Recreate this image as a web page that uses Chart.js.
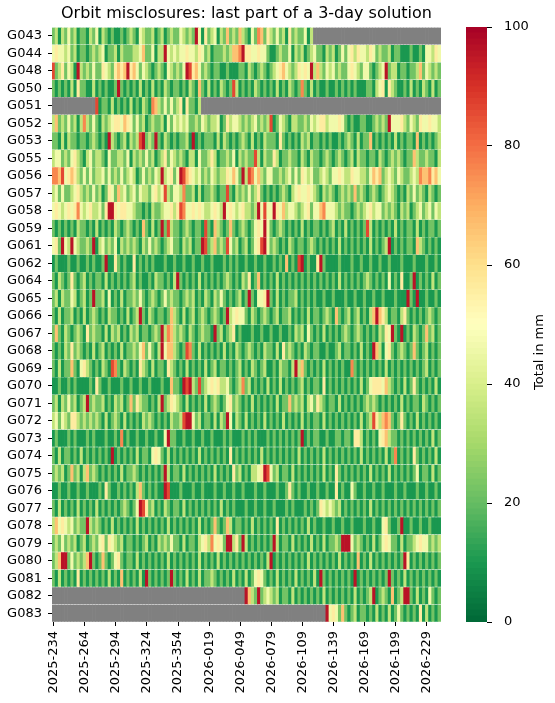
<!DOCTYPE html>
<html>
<head>
<meta charset="utf-8">
<script src="https://cdn.jsdelivr.net/npm/chart.js@4.4.1/dist/chart.umd.min.js"></script>
<style>
  html, body { margin: 0; padding: 0; background: #fff; }
  #wrap { position: relative; width: 555px; height: 703px; }
  #wrap canvas { position: absolute; left: 0; top: 0; width: 555px; height: 703px; }
</style>
</head>
<body>
<div id="wrap">
  <canvas id="heat" width="555" height="703"></canvas>
  <canvas id="cbar" width="555" height="703"></canvas>
</div>
<script>
const satellites = ['G043','G044','G048','G050','G051','G052','G053','G055','G056','G057','G058','G059',
  'G061','G062','G064','G065','G066','G067','G068','G069','G070','G071','G072','G073','G074','G075',
  'G076','G077','G078','G079','G080','G081','G082','G083'];

const xTickLabels = ['2025-234','2025-264','2025-294','2025-324','2025-354','2026-019','2026-049',
  '2026-079','2026-109','2026-139','2026-169','2026-199','2026-229'];
const colsPerTick = 10;   // one column = 3 days, ticks every 30 days

// mm for each level digit used below
const levelMm = [3, 10, 22, 35, 46, 56, 66, 76, 86, 96];

// misclosure per satellite, one char per 3-day column (level digit), '.' = no solution
const rowLevels = [
  '23132 42312 21324 13212 11212 32143 22312 31232 24323 29415 23413 26232 63214 27625 32423 15232 2413. ..... ..... ..... ..... ..... ..... ..... .....',
  '45443 42312 21232 34122 31322 23346 22413 39434 34454 43542 31222 32366 79554 45442 11232 24132 31234 22132 31242 45354 43542 32231 22111 21121 44354',
  '82352 43193 23242 25432 56569 56424 32123 21432 32498 56423 21221 12111 22132 12321 23456 43235 45493 63243 42322 45432 44212 34923 31221 22362 43232',
  '21212 13152 21131 21211 29212 12131 21312 13212 21213 21621 31213 21283 12121 32121 21312 13212 72131 21121 12121 21211 12213 45153 21121 31213 21312',
  '..... ..... ....8 12213 12121 31213 21763 24242 35152 213.. ..... ..... ..... ..... ..... ..... ..... ..... ..... ..... ..... ..... ..... ..... .....',
  '36232 42313 73242 13234 55465 42423 12322 31424 34342 23243 23341 25344 32323 42323 81243 21332 23243 45534 44542 12112 21123 23294 44532 43254 45443',
  '22131 32212 21232 12193 21231 32389 23292 13212 12231 91212 22131 32121 23213 12132 22152 12121 32312 21212 11212 32131 22612 12121 31212 21612 12123',
  '34423 24532 13423 32142 23324 13232 42312 35243 23213 31422 35312 23241 32322 83132 25312 23221 32132 21232 12321 23132 21221 32123 23212 26322 32213',
  '77684 56532 42423 34242 32423 43124 23243 93452 49865 43423 24323 35464 29387 46324 42232 34242 54342 23432 44543 35443 32465 62343 24322 34376 67564',
  '34242 23453 23242 31254 26342 34243 32453 48324 43722 31312 23212 28213 23242 35212 12123 21345 44543 21323 21232 32623 21232 12343 21213 24232 13212',
  '45434 54574 34533 42599 54554 43221 21322 34453 58744 54543 34543 94543 45332 39484 49546 34432 34524 46744 43232 21232 34534 42323 21323 12342 34243',
  '21212 12132 21213 12121 32123 21216 21312 92832 21232 12218 21632 12621 23212 45494 21232 12121 31212 21212 31213 12121 28312 12121 31212 21312 12212',
  '45294 39432 23291 34232 41323 23213 24232 12342 21323 12298 23623 28423 12312 45894 23212 13212 21232 12121 21312 12121 21312 12391 21212 21632 12121',
  '12111 21121 12121 12911 52121 15121 21211 12112 11211 21121 12111 21212 11211 21121 12121 61218 91211 59211 11211 12112 11211 21121 11211 12111 21121',
  '21321 25212 31212 21312 12121 23121 12132 21213 92121 21312 12121 23212 13251 26121 21312 12121 21212 12121 21312 12121 23212 12141 21511 29121 21312',
  '23132 24312 31292 23141 21312 23242 12321 24232 21232 31213 21324 21212 31292 14459 21312 12231 21212 11211 21112 11211 21121 12111 21119 21911 21121',
  '21312 23121 31232 12132 21213 12392 13212 21263 21312 31232 12321 29345 44213 21232 12312 23121 21312 21232 16212 31231 21369 65312 21352 12121 23212',
  '26213 21232 15232 21313 23121 32312 21232 93763 23213 21232 21923 12351 21112 11211 21121 12132 31421 21312 12123 21232 12121 32549 21912 13212 62312',
  '21213 25232 12131 23121 21312 23246 24213 94663 21287 21312 12121 31213 21232 12132 21315 23212 13212 21121 12312 21213 12196 31452 12321 26212 31212',
  '21312 26214 53212 13218 72132 12153 21312 21532 12131 21213 12312 21212 31213 21231 12132 21393 62121 21312 12121 17212 12121 21312 12121 21212 31212',
  '11211 21211 11215 21121 11211 21121 12111 21162 21989 32823 45453 34212 37231 21213 12131 21212 31212 21512 12121 21213 12455 54632 12131 25212 12131',
  '23132 42312 39232 23121 32312 62532 21213 92354 32131 21213 12321 24523 21213 12121 21312 26232 31342 53212 21312 12121 23232 12121 21312 12213 21212',
  '34243 25532 32323 21312 32131 21213 23212 12132 23899 42312 21313 29413 21312 12131 21213 12121 31212 21312 12121 21213 12385 36762 12521 21312 12121',
  '12111 21211 12121 11211 21712 11211 21121 14922 11211 21121 12111 21211 12121 21112 12121 21212 91212 21121 12212 21553 12121 45632 21212 12121 21312',
  '21312 21213 12121 21219 12121 21312 21454 21312 12121 21312 12121 21512 12121 21312 12121 21213 12121 21312 12121 21213 12121 21312 71212 15212 12131',
  '23231 26231 36232 12121 21312 23212 12121 29312 21312 12121 21312 12152 31213 34598 42312 21312 12121 21312 15212 12121 21312 12131 21212 12412 21312',
  '11211 21121 12111 21521 12121 21362 12121 19811 12111 21121 11211 21121 12111 21121 11211 25212 11211 21121 15121 14211 21121 12111 21121 11211 21121',
  '21312 12131 21213 12121 21232 12498 52312 13212 21312 12121 21213 12121 11211 21121 12111 21211 12121 25434 32312 12121 21312 12121 21212 12121 21212',
  '36454 34232 29323 21213 12121 21312 12121 21312 12121 21312 12621 26312 21213 12121 21512 12121 21312 11211 21121 12111 21121 14521 12911 21121 12111',
  '23242 32312 31232 45254 32312 21212 31213 23242 21312 21345 37454 29935 29312 12121 29312 21312 12131 21312 23299 94232 12131 24542 21312 23454 42323',
  '23699 24232 36921 26212 45212 21312 12121 21312 12121 21312 12131 21212 12121 21213 91212 12121 21312 12121 21312 12161 21312 12121 21295 12121 21212',
  '21312 12151 21212 12131 21612 12131 92121 21292 12131 21312 23212 12131 21312 45421 21312 12131 21213 19212 12121 21912 12121 21292 12131 21212 12121',
  '..... ..... ..... ..... ..... ..... ..... ..... ..... ..... ..... ..... ..963 29234 32312 21312 12121 21312 12121 21312 12391 23216 12399 21312 14212',
  '..... ..... ..... ..... ..... ..... ..... ..... ..... ..... ..... ..... ..... ..... ..... ..... ..... ...94 54262 12312 21213 12131 24212 12151 31212'
];

const rows = rowLevels.map(s => s.replace(/ /g, '').split('').map(c => c === '.' ? null : levelMm[Number(c)]));
const nCols = rows[0].length;

// RdYlGn reversed: green = small, red = large
const rdylgn = ['#006837','#1a9850','#66bd63','#a6d96a','#d9ef8b','#ffffbf','#fee08b','#fdae61','#f46d43','#d73027','#a50026'];
function hexRgb(h) { return [1, 3, 5].map(i => parseInt(h.slice(i, i + 2), 16)); }
function cmap(v) {
  const t = Math.max(0, Math.min(100, v)) / 10;
  const i = Math.min(9, Math.floor(t));
  const f = t - i;
  const a = hexRgb(rdylgn[i]), b = hexRgb(rdylgn[i + 1]);
  const c = a.map((x, k) => Math.round(x + (b[k] - x) * f));
  return `rgb(${c[0]},${c[1]},${c[2]})`;
}

Chart.defaults.font.family = 'DejaVu Sans';
Chart.defaults.color = '#000';

const heatSets = rows.map((vals, r) => ({
  data: vals.map(() => [r + 0.03, r + 0.97]),
  backgroundColor: vals.map(v => v === null ? '#808080' : cmap(v)),
  borderWidth: 0,
  grouped: false,
  barPercentage: 1,
  categoryPercentage: 1
}));

new Chart(document.getElementById('heat'), {
  type: 'bar',
  data: { labels: Array.from({ length: nCols }, (_, i) => i), datasets: heatSets },
  options: {
    responsive: false,
    animation: false,
    layout: { padding: { top: 0, right: 114, left: 0, bottom: 0 } },
    plugins: {
      legend: { display: false },
      tooltip: { enabled: false },
      title: {
        display: true,
        fullSize: false,
        text: 'Orbit misclosures: last part of a 3-day solution',
        font: { size: 16, weight: 'normal' },
        color: '#000',
        padding: { top: 4, bottom: 4 }
      }
    },
    scales: {
      x: {
        offset: true,
        grid: { drawOnChartArea: false, offset: false, tickLength: 4, color: '#000' },
        border: { display: false },
        ticks: {
          autoSkip: false, minRotation: 90, maxRotation: 90, padding: 5,
          font: { size: 13 }, color: '#000',
          callback: (v, i) => i % colsPerTick === 0 ? xTickLabels[i / colsPerTick] : null
        },
        afterFit: s => { s.height = 81; }
      },
      y: {
        min: 0, max: satellites.length, reverse: true,
        afterBuildTicks: s => { s.ticks = satellites.map((_, i) => ({ value: i + 0.5 })); },
        grid: { drawOnChartArea: false, tickLength: 4, color: '#000' },
        border: { display: false },
        ticks: {
          autoSkip: false, padding: 6, font: { size: 13 }, color: '#000',
          callback: v => satellites[Math.floor(v)]
        },
        afterFit: s => { s.width = 52; }
      }
    }
  }
});

// colour bar: datasets are painted last-to-first, so slice k spans 0..k+1 and the lower ones cover it
const cbTicks = [0, 20, 40, 60, 80, 100];
const cbSets = Array.from({ length: 100 }, (_, k) => ({
  data: [[0, k + 1]],
  backgroundColor: cmap(k + 0.5),
  borderWidth: 0,
  grouped: false,
  barPercentage: 1,
  categoryPercentage: 1
}));

const cbLabel = {
  id: 'cbLabel',
  afterDraw(c) {
    const ctx = c.ctx;
    ctx.save();
    ctx.translate(540, 352);
    ctx.rotate(-Math.PI / 2);
    ctx.font = '13px "DejaVu Sans"';
    ctx.fillStyle = '#000';
    ctx.textAlign = 'center';
    ctx.textBaseline = 'middle';
    ctx.fillText('Total in mm', 0, 0);
    ctx.restore();
  }
};

new Chart(document.getElementById('cbar'), {
  type: 'bar',
  data: { labels: [''], datasets: cbSets },
  options: {
    responsive: false,
    animation: false,
    layout: { padding: { left: 466, top: 27, bottom: 81, right: 0 } },
    plugins: { legend: { display: false }, tooltip: { enabled: false } },
    scales: {
      x: { display: false },
      y: {
        position: 'right', min: 0, max: 100,
        afterBuildTicks: s => { s.ticks = cbTicks.map(v => ({ value: v })); },
        grid: { drawOnChartArea: false, tickLength: 5, color: '#000' },
        border: { display: false },
        ticks: { padding: 12, font: { size: 13 }, color: '#000' },
        afterFit: s => { s.width = 68; }
      }
    }
  },
  plugins: [cbLabel]
});
</script>
</body>
</html>
